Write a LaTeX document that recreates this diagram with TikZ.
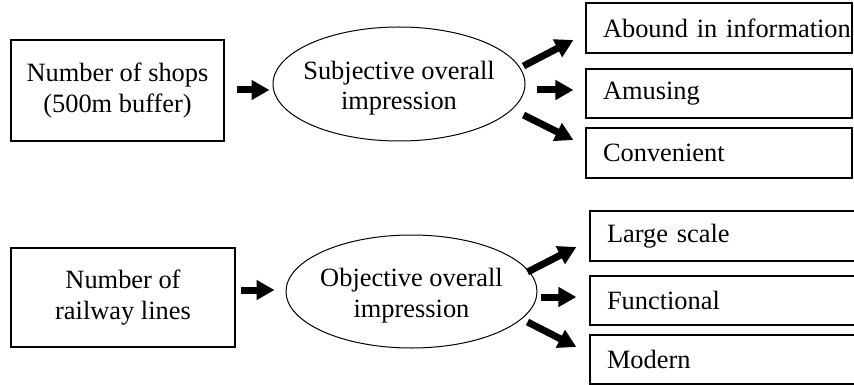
\documentclass[tikz,border=0pt]{standalone}
\usepackage{fontspec}
\setmainfont{Liberation Serif}
\usetikzlibrary{shapes.geometric,arrows.meta,calc}
\begin{document}
\begin{tikzpicture}[x=1pt,y=-1pt,
  every node/.style={font=\fontsize{26.4}{30.4}\selectfont},
  srcbox/.style={draw,line width=1.2pt,rectangle,inner sep=0pt,align=center},
  oval/.style={draw,line width=1pt,ellipse,inner sep=0pt},
  ovaltext/.style={align=center,inner sep=0pt},
  outbox/.style={draw,line width=1.2pt,rectangle,inner ysep=0pt,inner xsep=2pt,align=left,minimum height=#1},
  bigarrow/.style={line width=7pt,-{Triangle[length=18pt,width=19pt]}}
]
\useasboundingbox (0,0) rectangle (854,385);
\clip (0,0) rectangle (854,385);
% top group
\node[srcbox,minimum width=213pt,minimum height=101pt] (b1) at (117.5,90.5) {Number of shops\\(500m buffer)};
\node[oval,minimum width=252pt,minimum height=114pt] (e1) at (399,84) {};
\node[ovaltext] (e1t) at ($(e1.center)+(0,4)$) {Subjective overall\\impression};
\node[outbox=50pt,text width=262pt] (bA) at (719,28) {\hspace*{15pt}\mbox{Abound in information}};
\node[outbox=49pt,text width=262pt] (bB) at (719,93.5) {\hspace*{15pt}\mbox{Amusing}};
\node[outbox=50pt,text width=262pt] (bC) at (719,153) {\hspace*{15pt}\mbox{Convenient}};
% bottom group
\node[srcbox,minimum width=224pt,minimum height=99pt] (b2) at (123,297.5) {Number of\\railway lines};
\node[oval,minimum width=251pt,minimum height=113pt] (e2) at (411.5,291.5) {};
\node[ovaltext] (e2t) at ($(e2.center)+(0,4)$) {Objective overall\\impression};
\node[outbox=50pt,text width=264pt] (bD) at (724,236) {\hspace*{15pt}\mbox{Large scale}};
\node[outbox=49pt,text width=264pt] (bE) at (724,300.5) {\hspace*{15pt}\mbox{Functional}};
\node[outbox=49pt,text width=264pt] (bF) at (724,359.5) {\hspace*{15pt}\mbox{Modern}};
% arrows top
\draw[bigarrow] ($(b1.east)+(12,-0.5)$) -- ($(e1.west)+(-3,6)$);
\draw[bigarrow] ($(e1.east)+(-2,-18)$) -- ($(bA.west)+(-12,12)$);
\draw[bigarrow] ($(e1.east)+(11,6)$) -- ($(bB.west)+(-12,-3.5)$);
\draw[bigarrow] ($(e1.east)+(-2,31)$) -- ($(bC.west)+(-12,-13)$);
% arrows bottom
\draw[bigarrow] ($(b2.east)+(5,-7.5)$) -- ($(e2.west)+(-11,-1.5)$);
\draw[bigarrow] ($(e2.east)+(-10,-19.5)$) -- ($(bD.west)+(-13,11)$);
\draw[bigarrow] ($(e2.east)+(3,5.5)$) -- ($(bE.west)+(-13,-3.5)$);
\draw[bigarrow] ($(e2.east)+(-10,30.5)$) -- ($(bF.west)+(-13,-12.5)$);
\end{tikzpicture}
\end{document}
